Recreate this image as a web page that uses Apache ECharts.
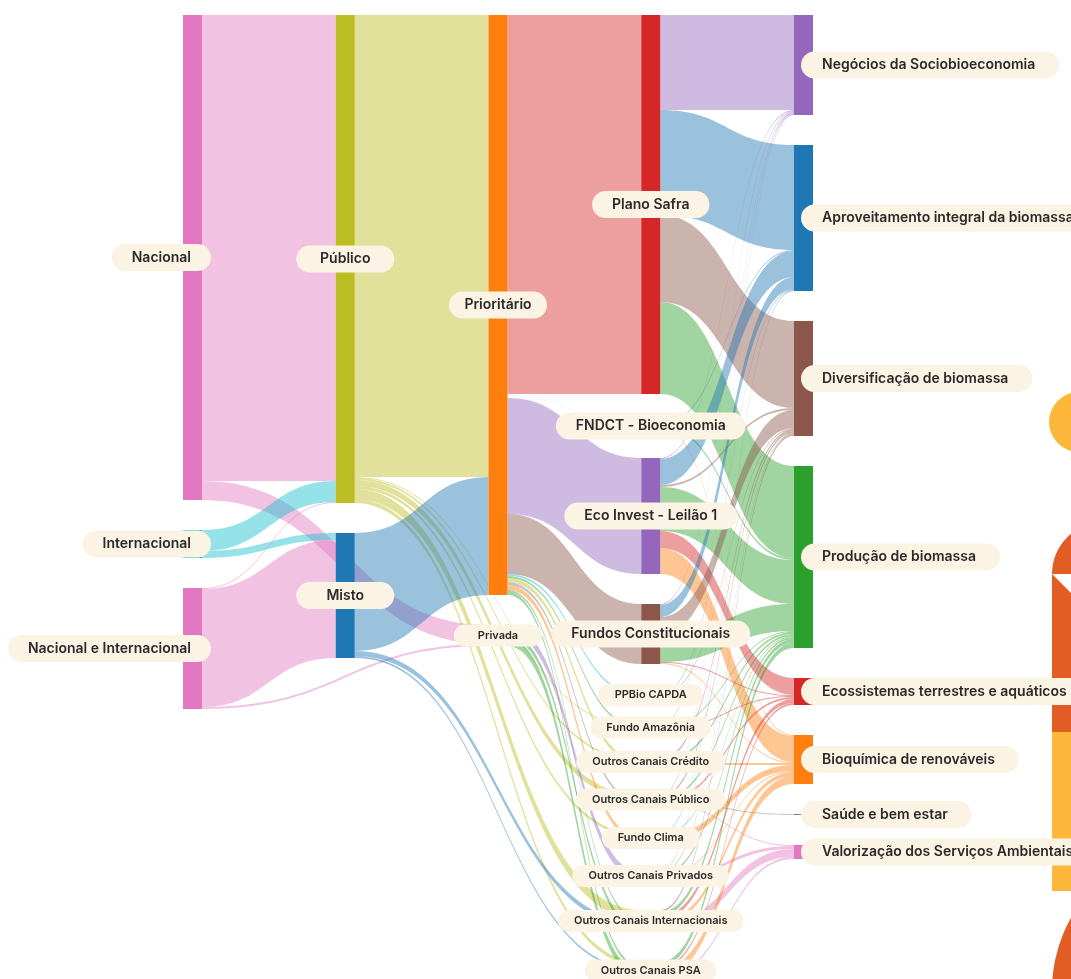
<!DOCTYPE html>
<html>
<head>
<meta charset="utf-8">
<title>Fluxos de financiamento da bioeconomia</title>
<script src="https://cdn.jsdelivr.net/npm/echarts@6/dist/echarts.min.js"></script>
<style>
  html, body { margin: 0; padding: 0; background: #ffffff; }
  #chart { width: 1071px; height: 979px; }
</style>
</head>
<body>
<div id="chart"></div>
<script>
/* global echarts */
// Columns of the diagram, left to right
const origens = ["Nacional", "Internacional", "Nacional e Internacional"];
const naturezas = ["Público", "Misto"];
const prioridades = ["Prioritário", "Privada"];
const instrumentos = [
  "Plano Safra", "FNDCT - Bioeconomia", "Eco Invest - Leilão 1", "Fundos Constitucionais",
  "PPBio CAPDA", "Fundo Amazônia", "Outros Canais Crédito", "Outros Canais Público",
  "Fundo Clima", "Outros Canais Privados", "Outros Canais Internacionais", "Outros Canais PSA",
];
const areas = [
  "Negócios da Sociobioeconomia", "Aproveitamento integral da biomassa", "Diversificação de biomassa",
  "Produção de biomassa", "Ecossistemas terrestres e aquáticos", "Bioquímica de renováveis",
  "Saúde e bem estar", "Valorização dos Serviços Ambientais",
];

const fluxosOrigem = [
  ["Nacional", "Público", 466],
  ["Nacional", "Privada", 19],
  ["Internacional", "Público", 21],
  ["Internacional", "Misto", 7],
  ["Nacional e Internacional", "Público", 1],
  ["Nacional e Internacional", "Misto", 118],
  ["Nacional e Internacional", "Privada", 2],
];
const fluxosNatureza = [
  ["Público", "Prioritário", 462],
  ["Público", "Fundo Amazônia", 1],
  ["Público", "Outros Canais Crédito", 2],
  ["Público", "Outros Canais Público", 6],
  ["Público", "Fundo Clima", 3],
  ["Público", "Outros Canais Internacionais", 10],
  ["Público", "Outros Canais PSA", 4],
  ["Misto", "Prioritário", 118],
  ["Misto", "Outros Canais Internacionais", 5],
  ["Misto", "Outros Canais PSA", 2],
];
const fluxosPrioridade = [
  ["Prioritário", "Plano Safra", 379],
  ["Prioritário", "FNDCT - Bioeconomia", 4],
  ["Prioritário", "Eco Invest - Leilão 1", 116],
  ["Prioritário", "Fundos Constitucionais", 60],
  ["Prioritário", "PPBio CAPDA", 2],
  ["Prioritário", "Fundo Amazônia", 2],
  ["Prioritário", "Outros Canais Crédito", 4],
  ["Prioritário", "Outros Canais Público", 3],
  ["Prioritário", "Fundo Clima", 5],
  ["Prioritário", "Outros Canais Internacionais", 2],
  ["Prioritário", "Outros Canais PSA", 3],
  ["Privada", "Outros Canais Privados", 8],
  ["Privada", "Outros Canais Internacionais", 5],
  ["Privada", "Outros Canais PSA", 8],
];
const fluxosInstrumento = [
  ["Plano Safra", "Negócios da Sociobioeconomia", 95],
  ["Plano Safra", "Aproveitamento integral da biomassa", 105],
  ["Plano Safra", "Diversificação de biomassa", 87],
  ["Plano Safra", "Produção de biomassa", 92],
  ["FNDCT - Bioeconomia", "Aproveitamento integral da biomassa", 1],
  ["FNDCT - Bioeconomia", "Produção de biomassa", 2],
  ["FNDCT - Bioeconomia", "Bioquímica de renováveis", 1],
  ["Eco Invest - Leilão 1", "Negócios da Sociobioeconomia", 1],
  ["Eco Invest - Leilão 1", "Aproveitamento integral da biomassa", 26],
  ["Eco Invest - Leilão 1", "Diversificação de biomassa", 2],
  ["Eco Invest - Leilão 1", "Produção de biomassa", 44],
  ["Eco Invest - Leilão 1", "Ecossistemas terrestres e aquáticos", 17],
  ["Eco Invest - Leilão 1", "Bioquímica de renováveis", 26],
  ["Fundos Constitucionais", "Negócios da Sociobioeconomia", 1],
  ["Fundos Constitucionais", "Aproveitamento integral da biomassa", 12],
  ["Fundos Constitucionais", "Diversificação de biomassa", 18],
  ["Fundos Constitucionais", "Produção de biomassa", 27],
  ["Fundos Constitucionais", "Ecossistemas terrestres e aquáticos", 1],
  ["Fundos Constitucionais", "Bioquímica de renováveis", 1],
  ["PPBio CAPDA", "Aproveitamento integral da biomassa", 1],
  ["PPBio CAPDA", "Diversificação de biomassa", 1],
  ["Fundo Amazônia", "Negócios da Sociobioeconomia", 1],
  ["Fundo Amazônia", "Produção de biomassa", 1],
  ["Fundo Amazônia", "Ecossistemas terrestres e aquáticos", 1],
  ["Outros Canais Crédito", "Diversificação de biomassa", 2],
  ["Outros Canais Crédito", "Produção de biomassa", 2],
  ["Outros Canais Crédito", "Bioquímica de renováveis", 2],
  ["Outros Canais Público", "Negócios da Sociobioeconomia", 1],
  ["Outros Canais Público", "Diversificação de biomassa", 2],
  ["Outros Canais Público", "Produção de biomassa", 2],
  ["Outros Canais Público", "Ecossistemas terrestres e aquáticos", 2],
  ["Outros Canais Público", "Saúde e bem estar", 1],
  ["Outros Canais Público", "Valorização dos Serviços Ambientais", 1],
  ["Fundo Clima", "Aproveitamento integral da biomassa", 1],
  ["Fundo Clima", "Produção de biomassa", 1],
  ["Fundo Clima", "Bioquímica de renováveis", 6],
  ["Outros Canais Privados", "Negócios da Sociobioeconomia", 1],
  ["Outros Canais Privados", "Diversificação de biomassa", 1],
  ["Outros Canais Privados", "Produção de biomassa", 2],
  ["Outros Canais Privados", "Bioquímica de renováveis", 1],
  ["Outros Canais Privados", "Valorização dos Serviços Ambientais", 3],
  ["Outros Canais Internacionais", "Diversificação de biomassa", 2],
  ["Outros Canais Internacionais", "Produção de biomassa", 4],
  ["Outros Canais Internacionais", "Ecossistemas terrestres e aquáticos", 4],
  ["Outros Canais Internacionais", "Bioquímica de renováveis", 4],
  ["Outros Canais Internacionais", "Valorização dos Serviços Ambientais", 8],
  ["Outros Canais PSA", "Produção de biomassa", 5],
  ["Outros Canais PSA", "Ecossistemas terrestres e aquáticos", 2],
  ["Outros Canais PSA", "Bioquímica de renováveis", 8],
  ["Outros Canais PSA", "Valorização dos Serviços Ambientais", 2],
];

// Styling
const coresNos = {
  "Nacional": "#e377c2", "Internacional": "#17becf", "Nacional e Internacional": "#e377c2",
  "Público": "#bcbd22", "Misto": "#1f77b4", "Prioritário": "#ff7f0e", "Privada": "#7f7f7f",
  "Plano Safra": "#d62728", "FNDCT - Bioeconomia": "#f6f6f6", "Eco Invest - Leilão 1": "#9467bd",
  "Fundos Constitucionais": "#8c564b", "PPBio CAPDA": "#17becf", "Fundo Amazônia": "#2ca02c",
  "Outros Canais Crédito": "#bcbd22", "Outros Canais Público": "#7f7f7f", "Fundo Clima": "#ff7f0e",
  "Outros Canais Privados": "#9467bd", "Outros Canais Internacionais": "#2ca02c", "Outros Canais PSA": "#2ca02c",
  "Negócios da Sociobioeconomia": "#9467bd", "Aproveitamento integral da biomassa": "#1f77b4",
  "Diversificação de biomassa": "#8c564b", "Produção de biomassa": "#2ca02c",
  "Ecossistemas terrestres e aquáticos": "#d62728", "Bioquímica de renováveis": "#ff7f0e",
  "Saúde e bem estar": "#7f7f7f", "Valorização dos Serviços Ambientais": "#e377c2",
};
const rotulosPequenos = [
  "Privada", "PPBio CAPDA", "Fundo Amazônia", "Outros Canais Crédito", "Outros Canais Público",
  "Fundo Clima", "Outros Canais Privados", "Outros Canais Internacionais", "Outros Canais PSA",
];

const baseLabel = {
  show: true,
  color: "#2b2929",
  fontFamily: "Inter, 'Open Sans', sans-serif",
  fontWeight: 600,
  backgroundColor: "#fbf3e4",
};

function rotulo(depth, name) {
  const pequeno = rotulosPequenos.includes(name);
  const fonte = pequeno
    ? { fontSize: 11, lineHeight: 12, padding: [5, 16], borderRadius: 11 }
    : { fontSize: 14, lineHeight: 15, padding: [6, 20], borderRadius: 14 };
  if (depth === 0) {
    return { ...baseLabel, ...fonte, position: [28, "50%"], align: "right", verticalAlign: "middle" };
  }
  if (depth === 4) {
    return { ...baseLabel, ...fonte, padding: [6, 24, 6, 21], position: [7, "50%"], align: "left", verticalAlign: "middle" };
  }
  if (depth < 3 && !pequeno) {
    return { ...baseLabel, ...fonte, padding: [6, 14], width: 70, align: "center", position: "inside" };
  }
  if (depth < 3) {
    return { ...baseLabel, ...fonte, padding: [5, 24], position: "inside" };
  }
  return { ...baseLabel, ...fonte, position: "inside" };
}

const colunas = [origens, naturezas, prioridades, instrumentos, areas];
const profundidade = {};
const nodes = [];
colunas.forEach((coluna, depth) => {
  coluna.forEach((name) => {
    profundidade[name] = depth;
    nodes.push({
      name: name,
      depth: depth,
      itemStyle: { color: coresNos[name] },
      label: rotulo(depth, name),
    });
  });
});

// left part coloured by source, right part by target
const links = [...fluxosOrigem, ...fluxosNatureza, ...fluxosPrioridade, ...fluxosInstrumento].map(
  ([source, target, value]) => ({
    source: source,
    target: target,
    value: value,
    lineStyle: { color: profundidade[source] < 2 ? "source" : "target" },
  }),
);

const chart = echarts.init(document.getElementById("chart"));
chart.setOption({
  animation: false,
  backgroundColor: "#ffffff",
  // decorative shapes on the page edge
  graphic: [
    { type: "circle", z: 0, shape: { cx: 1079, cy: 422, r: 30 }, style: { fill: "#fdb73a" } },
    { type: "circle", z: 0, shape: { cx: 1104, cy: 574, r: 52 }, style: { fill: "#e25c26" } },
    { type: "rect", z: 0, shape: { x: 1052, y: 574, width: 30, height: 158 }, style: { fill: "#e25c26" } },
    { type: "polygon", z: 1, shape: { points: [[1052, 574], [1072, 574], [1072, 594]] }, style: { fill: "#ffffff" } },
    { type: "rect", z: 0, shape: { x: 1052, y: 732, width: 30, height: 159 }, style: { fill: "#fdb73a" } },
    { type: "circle", z: 0, shape: { cx: 1199, cy: 990, r: 147 }, style: { fill: "#e25c26" } },
  ],
  series: [
    {
      type: "sankey",
      left: 183,
      top: 15,
      right: 258,
      bottom: 0,
      nodeWidth: 19,
      nodeGap: 30,
      nodeAlign: "left",
      layoutIterations: 0,
      draggable: false,
      emphasis: { disabled: true },
      itemStyle: { borderWidth: 0 },
      lineStyle: { opacity: 0.45, curveness: 0.5 },
      data: nodes,
      links: links,
    },
  ],
});
window.addEventListener("resize", () => chart.resize());
</script>
</body>
</html>
